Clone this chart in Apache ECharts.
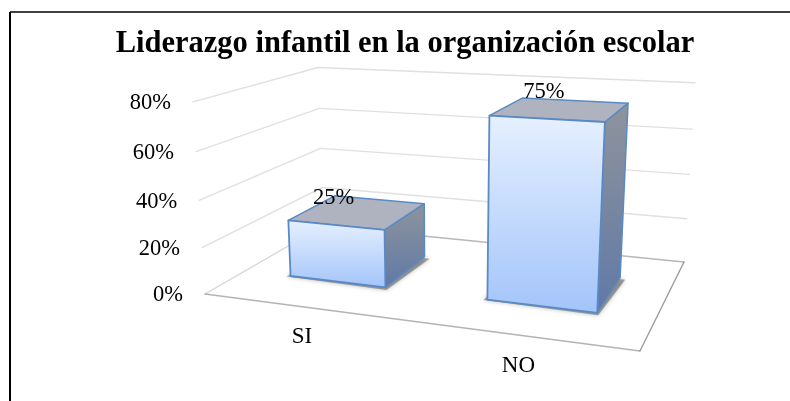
<!DOCTYPE html>
<html><head><meta charset="utf-8">
<style>html,body{margin:0;padding:0;background:#fff}#c{width:790px;height:401px}</style>
<script src="https://cdn.jsdelivr.net/npm/echarts@6/dist/echarts.min.js"></script>
</head><body><div id="c"></div>
<script>
const categories = ['SI', 'NO'];
const values = [25, 75];
const tickValues = [0, 20, 40, 60, 80];
const chartTitle = 'Liderazgo infantil en la organización escolar';

// Camera: the flat grid (u across, h up) plus a depth w is seen through one perspective projection.
const CAM = { a: 341.65, b: 189.95, c: 205, d: 5.81, e: -17.66, f: 294, g: -0.14585, h: 0.22276,
              vx: 445, vy: 4131, s: -0.0596 / 100 };
const DEPTH_FRONT = 0.30, DEPTH_BACK = 0.715, BAR_RATIO = 0.5;
const SERIF = '"Liberation Serif","Times New Roman",serif';

function project(u, w, val) {
  const t = val * CAM.s;
  const Z = CAM.g * u + CAM.h * w + 1;
  const X = CAM.a * u + CAM.b * w + CAM.c;
  const Y = CAM.d * u + CAM.e * w + CAM.f;
  return [(X + t * CAM.vx) / (Z + t), (Y + t * CAM.vy) / (Z + t)];
}
function gridU(params, px) { return (px - params.coordSys.x) / params.coordSys.width; }
function valueAt(params, py, maxV) { return (params.coordSys.y + params.coordSys.height - py) / params.coordSys.height * maxV; }
const maxValue = tickValues[tickValues.length - 1];

function line(p, q, color, width) {
  return { type: 'line', shape: { x1: p[0], y1: p[1], x2: q[0], y2: q[1] }, silent: true,
           style: { stroke: color, lineWidth: width, lineCap: 'round' } };
}
function poly(points, style) { return { type: 'polygon', shape: { points }, silent: true, style }; }
function text(str, x, y, align, size, z2) {
  return { type: 'text', silent: true, z2: z2 || 0,
           style: { text: str, x, y, align, verticalAlign: 'middle', fill: '#000', font: size + 'px ' + SERIF } };
}

function renderWalls(params, api) {
  const pt = api.coord([0, api.value(1)]);
  const v = valueAt(params, pt[1], maxValue);
  const fl = project(0, 0, v), bl = project(0, 1, v), br = project(1, 1, v);
  const zero = api.value(1) === 0;
  const children = [
    line(fl, bl, zero ? '#d4d4d4' : '#e0e0e0', 1.4),
    line(bl, br, zero ? '#b8b8b8' : '#e0e0e0', 1.4),
    text(api.value(1) + '%', fl[0] - 22, fl[1] + 1.5, 'right', 22.5)
  ];
  if (zero) {
    const fr = project(1, 0, v);
    children.push(line(fl, fr, '#b4b4b4', 1.4), line(fr, br, '#9c9c9c', 1.4));
  }
  return { type: 'group', children };
}

function renderBar(params, api) {
  const top = api.coord([api.value(0), api.value(1)]);
  const band = api.size([1, 0])[0] * BAR_RATIO;
  const u0 = gridU(params, top[0] - band / 2), u1 = gridU(params, top[0] + band / 2);
  const uc = gridU(params, top[0]);
  const v = valueAt(params, top[1], maxValue);
  const P = (u, w, h) => project(u, w, h);
  const a0 = P(u0, DEPTH_FRONT, 0), b0 = P(u1, DEPTH_FRONT, 0), c0 = P(u1, DEPTH_BACK, 0), d0 = P(u0, DEPTH_BACK, 0);
  const a1 = P(u0, DEPTH_FRONT, v), b1 = P(u1, DEPTH_FRONT, v), c1 = P(u1, DEPTH_BACK, v), d1 = P(u0, DEPTH_BACK, v);
  const edge = '#5a8ac6';
  const G = (c1_, c2_) => new echarts.graphic.LinearGradient(0, 0, 0, 1, [{ offset: 0, color: c1_ }, { offset: 1, color: c2_ }]);
  const lbl = project(uc, DEPTH_FRONT, v);
  const sh = [[a0[0] - 4, a0[1] + 0.5], [b0[0] + 1, b0[1] + 2.5], [c0[0] + 5, c0[1] + 2], [d0[0], d0[1]]];
  return { type: 'group', children: [
    poly(sh, { fill: 'rgba(70,70,70,0.45)', shadowColor: 'rgba(70,70,70,0.8)', shadowBlur: 4 }),
    poly([b0, c0, c1, b1], { fill: G('#8f949c', '#5f79a6'), stroke: edge, lineWidth: 1.5, lineJoin: 'round' }),
    poly([d1, c1, b1, a1], { fill: '#aeb3bf', stroke: edge, lineWidth: 1.5, lineJoin: 'round' }),
    poly([a0, b0, b1, a1], { fill: G('#e6f0ff', '#a3c4fa'), stroke: edge, lineWidth: 1.8, lineJoin: 'round' }),
    text(api.value(1) + '%', lbl[0] - 2, lbl[1] - 27, 'center', 22.5, 10)
  ] };
}

function renderCategory(params, api) {
  const pt = api.coord([api.value(0), 0]);
  const p = project(gridU(params, pt[0]), 0, 0);
  return text(categories[api.value(0)], p[0] + 0.5, p[1] + 30.5, 'center', 23);
}

const chart = echarts.init(document.getElementById('c'), null, { renderer: 'canvas' });
chart.setOption({
  animation: false,
  backgroundColor: '#fff',
  title: { text: chartTitle, left: 400, top: 24, textAlign: 'center',
           textStyle: { fontFamily: SERIF, fontWeight: 'bold', fontSize: 30.5, color: '#000' } },
  grid: { left: 0, right: 0, top: 0, bottom: 0 },
  xAxis: { type: 'category', data: categories, show: false },
  yAxis: { type: 'value', min: 0, max: maxValue, interval: 20, show: false },
  graphic: [
    { type: 'line', shape: { x1: 10, y1: 12, x2: 790, y2: 12 }, style: { stroke: '#000', lineWidth: 1.6 }, silent: true },
    { type: 'line', shape: { x1: 10, y1: 12, x2: 10, y2: 401 }, style: { stroke: '#000', lineWidth: 2 }, silent: true }
  ],
  series: [
    { type: 'custom', z: 1, clip: false, silent: true, renderItem: renderWalls,
      data: tickValues.map(t => [0, t]) },
    { type: 'custom', z: 2, clip: false, silent: true, renderItem: renderBar,
      data: values.map((v, i) => [i, v]) },
    { type: 'custom', z: 3, clip: false, silent: true, renderItem: renderCategory,
      data: categories.map((c, i) => [i, 0]) }
  ]
});
</script></body></html>
